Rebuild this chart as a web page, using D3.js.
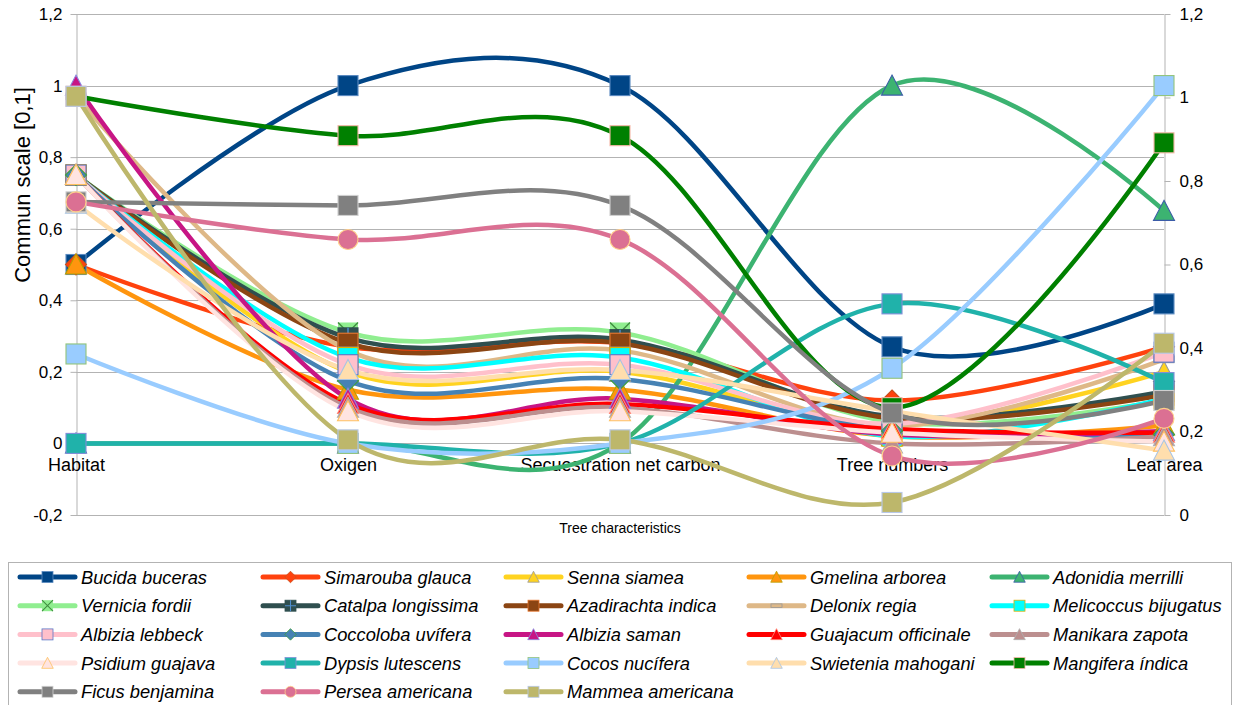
<!DOCTYPE html>
<html>
<head>
<meta charset="utf-8">
<script src="https://cdn.jsdelivr.net/npm/d3@7"></script>
<style>
  body { margin: 0; background: #ffffff; }
  svg { display: block; font-family: "Liberation Sans", Arial, sans-serif; }
</style>
</head>
<body>
<svg id="chart" width="1237" height="705"></svg>
<script>
// ---- data ----
const categories = ["Habitat", "Oxigen", "Secuestration net carbon", "Tree numbers", "Leaf area"];
const leftTicks = [-0.2, 0, 0.2, 0.4, 0.6, 0.8, 1, 1.2];
const rightTicks = [0, 0.2, 0.4, 0.6, 0.8, 1, 1.2];

const seriesNames = [
  "Bucida buceras", "Simarouba glauca", "Senna siamea", "Gmelina arborea", "Adonidia merrilli",
  "Vernicia fordii", "Catalpa longissima", "Azadirachta indica", "Delonix regia", "Melicoccus bijugatus",
  "Albizia lebbeck", "Coccoloba uvífera", "Albizia saman", "Guajacum officinale", "Manikara zapota",
  "Psidium guajava", "Dypsis lutescens", "Cocos nucífera", "Swietenia mahogani", "Mangifera índica",
  "Ficus benjamina", "Persea americana", "Mammea americana"
];

const bucidaBuceras       = [0.50, 1.00, 1.00, 0.27, 0.39];
const simaroubaGlauca     = [0.50, 0.27, 0.28, 0.12, 0.27];
const sennaSiamea         = [0.75, 0.20, 0.20, 0.05, 0.20];
const gmelinaArborea      = [0.50, 0.15, 0.15, 0.02, 0.05];
const adonidiaMerrilli    = [0.00, 0.00, 0.00, 1.00, 0.65];
const verniciaFordii      = [0.75, 0.31, 0.31, 0.06, 0.12];
const catalpaLongissima   = [0.75, 0.295, 0.29, 0.075, 0.145];
const azadirachtaIndica   = [0.75, 0.28, 0.28, 0.07, 0.135];
const delonixRegia        = [0.97, 0.26, 0.26, 0.05, 0.235];
const melicoccusBijugatus = [0.75, 0.24, 0.24, 0.02, 0.125];
const albiziaLebbeck      = [0.75, 0.22, 0.22, 0.055, 0.255];
const coccolobaUvifera    = [0.75, 0.175, 0.18, 0.035, 0.025];
const albiziaSaman        = [1.00, 0.125, 0.125, 0.025, 0.035];
const guajacumOfficinale  = [0.75, 0.11, 0.11, 0.04, 0.03];
const manikaraZapota      = [0.75, 0.10, 0.10, 0.00, 0.02];
const psidiumGuajava      = [0.75, 0.09, 0.09, 0.03, 0.005];
const dypsisLutescens     = [0.00, 0.00, 0.00, 0.39, 0.17];
const cocosNucifera       = [0.25, 0.00, 0.00, 0.21, 1.00];
const swieteniaMahogani   = [0.67, 0.205, 0.205, 0.09, -0.02];
const mangiferaIndica     = [0.97, 0.86, 0.86, 0.10, 0.84];
const ficusBenjamina      = [0.675, 0.665, 0.665, 0.085, 0.12];
const perseaAmericana     = [0.675, 0.57, 0.57, -0.035, 0.07];
const mammeaAmericana     = [0.97, 0.01, 0.01, -0.165, 0.28];

const seriesValues = [
  bucidaBuceras, simaroubaGlauca, sennaSiamea, gmelinaArborea, adonidiaMerrilli,
  verniciaFordii, catalpaLongissima, azadirachtaIndica, delonixRegia, melicoccusBijugatus,
  albiziaLebbeck, coccolobaUvifera, albiziaSaman, guajacumOfficinale, manikaraZapota,
  psidiumGuajava, dypsisLutescens, cocosNucifera, swieteniaMahogani, mangiferaIndica,
  ficusBenjamina, perseaAmericana, mammeaAmericana
];

// ---- styles: line colour, symbol shape, symbol fill and outline ----
const seriesStyles = [
  { color: "#004586", shape: "square",   fill: "#004586", stroke: "#5b8ac0" },
  { color: "#ff420e", shape: "diamond",  fill: "#ff420e", stroke: "#c8501e" },
  { color: "#ffd320", shape: "triangle", fill: "#ffd320", stroke: "#999999" },
  { color: "#ff950e", shape: "triangle", fill: "#ff950e", stroke: "#b8a000" },
  { color: "#3cb371", shape: "triangle", fill: "#3cb371", stroke: "#3b5ca8" },
  { color: "#90ee90", shape: "x",        fill: "#90ee90", stroke: "#3f8f3f" },
  { color: "#2f4f4f", shape: "plus",     fill: "#2f4f4f", stroke: "#4f8fd0" },
  { color: "#8b4513", shape: "square",   fill: "#8b4513", stroke: "#e8772e" },
  { color: "#deb887", shape: "bar",      fill: "#deb887", stroke: "#999999" },
  { color: "#00ffff", shape: "square",   fill: "#00ffff", stroke: "#e0b000" },
  { color: "#ffc0cb", shape: "square",   fill: "#ffc0cb", stroke: "#5a78c8" },
  { color: "#4682b4", shape: "diamond",  fill: "#4682b4", stroke: "#3f9f3f" },
  { color: "#c71585", shape: "triangle", fill: "#c71585", stroke: "#8a8ae0" },
  { color: "#ff0000", shape: "triangle", fill: "#ff0000", stroke: "#ff8a7a" },
  { color: "#bc8f8f", shape: "triangle", fill: "#bc8f8f", stroke: "#b0b0b0" },
  { color: "#ffe4e1", shape: "triangle", fill: "#ffe4e1", stroke: "#ffc060" },
  { color: "#20b2aa", shape: "square",   fill: "#20b2aa", stroke: "#7f8fd8" },
  { color: "#99ccff", shape: "square",   fill: "#99ccff", stroke: "#93c47d" },
  { color: "#ffdead", shape: "triangle", fill: "#ffdead", stroke: "#a8c4e4" },
  { color: "#008000", shape: "square",   fill: "#008000", stroke: "#f4b8a8" },
  { color: "#808080", shape: "square",   fill: "#808080", stroke: "#cfcfcf" },
  { color: "#db7093", shape: "circle",   fill: "#db7093", stroke: "#ffd08a" },
  { color: "#bdb76b", shape: "square",   fill: "#bdb76b", stroke: "#b8c8e8" }
];

const series = seriesNames.map((name, i) => ({
  name,
  values: seriesValues[i],
  style: seriesStyles[i]
}));

// ---- layout ----
const svg = d3.select("#chart");
const plot = { left: 76, right: 1164, top: 14, bottom: 515 };
const gridColor = "#b3b3b3";

const x = d3.scalePoint().domain(categories).range([plot.left, plot.right]).padding(0);
const y = d3.scaleLinear().domain([-0.2, 1.2]).range([plot.bottom, plot.top]);
const yRight = d3.scaleLinear().domain([0, 1.2]).range([plot.bottom, plot.top]);

const fmt = d => String(+d.toFixed(1)).replace(".", ",");

// gridlines
svg.append("g")
  .selectAll("line")
  .data(leftTicks)
  .join("line")
  .attr("x1", plot.left).attr("x2", plot.right)
  .attr("y1", d => Math.round(y(d)) + 0.5).attr("y2", d => Math.round(y(d)) + 0.5)
  .attr("stroke", gridColor).attr("stroke-width", 1);

// left value axis
const leftAxis = svg.append("g")
  .attr("transform", `translate(${plot.left + 0.5},0)`)
  .call(d3.axisLeft(y).tickValues(leftTicks).tickFormat(fmt).tickSize(6).tickSizeOuter(0).tickPadding(8));
leftAxis.selectAll("path.domain").attr("stroke", gridColor);
leftAxis.selectAll(".tick line").attr("stroke", gridColor);
leftAxis.selectAll("text").attr("font-size", 17).attr("fill", "#000")
  .style("font-family", "'Liberation Sans', Arial, sans-serif");

// right value axis
const rightAxis = svg.append("g")
  .attr("transform", `translate(${plot.right + 0.5},0)`)
  .call(d3.axisRight(yRight).tickValues(rightTicks).tickFormat(fmt).tickSize(6).tickSizeOuter(0).tickPadding(9));
rightAxis.selectAll("path.domain").attr("stroke", gridColor);
rightAxis.selectAll(".tick line").attr("stroke", gridColor);
rightAxis.selectAll("text").attr("font-size", 17).attr("fill", "#000")
  .style("font-family", "'Liberation Sans', Arial, sans-serif");

// category axis crossing at zero
const catAxis = svg.append("g")
  .attr("transform", `translate(0,${y(0)})`)
  .call(d3.axisBottom(x).tickSize(0).tickPadding(15));
catAxis.select("path.domain").remove();
catAxis.selectAll("text").attr("font-size", 18).attr("fill", "#000")
  .style("font-family", "'Liberation Sans', Arial, sans-serif");

// axis titles
svg.append("text")
  .attr("x", (plot.left + plot.right) / 2).attr("y", 533)
  .attr("text-anchor", "middle").attr("font-size", 14).attr("fill", "#000")
  .text("Tree characteristics");

svg.append("text")
  .attr("transform", "translate(30,185) rotate(-90)")
  .attr("text-anchor", "middle").attr("font-size", 22).attr("fill", "#000")
  .text("Commun scale [0,1]");

// ---- symbols ----
function drawSymbol(g, style, cx, cy, s) {
  const sw = Math.max(0.8, s / 9);
  const node = g.append("g").attr("transform", `translate(${cx},${cy})`);
  const base = { fill: style.fill, stroke: style.stroke, "stroke-width": sw };
  const apply = (sel, attrs) => { Object.entries(attrs).forEach(([k, v]) => sel.attr(k, v)); return sel; };
  switch (style.shape) {
    case "square":
      apply(node.append("rect"), base).attr("x", -s).attr("y", -s).attr("width", 2 * s).attr("height", 2 * s);
      break;
    case "diamond":
      apply(node.append("path"), base).attr("d", `M0,${-s * 1.05}L${s * 1.05},0L0,${s * 1.05}L${-s * 1.05},0Z`);
      break;
    case "triangle":
      apply(node.append("path"), base).attr("d", `M0,${-s * 1.05}L${s * 1.05},${s * 0.95}L${-s * 1.05},${s * 0.95}Z`);
      break;
    case "circle":
      apply(node.append("circle"), base).attr("r", s);
      break;
    case "bar":
      apply(node.append("rect"), base).attr("x", -s).attr("y", -s * 0.33).attr("width", 2 * s).attr("height", s * 0.66);
      break;
    case "x":
      apply(node.append("rect"), { fill: style.fill, stroke: "none" }).attr("x", -s).attr("y", -s).attr("width", 2 * s).attr("height", 2 * s);
      node.append("path").attr("d", `M${-s},${-s}L${s},${s}M${s},${-s}L${-s},${s}`)
        .attr("stroke", style.stroke).attr("stroke-width", sw * 1.3).attr("fill", "none");
      break;
    case "plus":
      apply(node.append("rect"), { fill: style.fill, stroke: style.fill, "stroke-width": sw }).attr("x", -s).attr("y", -s).attr("width", 2 * s).attr("height", 2 * s);
      node.append("path").attr("d", `M0,${-s}V${s}M${-s},0H${s}`)
        .attr("stroke", style.stroke).attr("stroke-width", sw * 1.3).attr("fill", "none");
      break;
  }
}

// ---- series lines (smoothed through every point) ----
const line = d3.line()
  .x((d, i) => x(categories[i]))
  .y(d => y(d))
  .curve(d3.curveCardinal.tension(0));

const linesG = svg.append("g");
series.forEach(s => {
  linesG.append("path")
    .datum(s.values)
    .attr("d", line)
    .attr("fill", "none")
    .attr("stroke", s.style.color)
    .attr("stroke-width", 4.5)
    .attr("stroke-linejoin", "round")
    .attr("stroke-linecap", "round");
});

// ---- series symbols ----
const markersG = svg.append("g");
series.forEach(s => {
  s.values.forEach((v, i) => drawSymbol(markersG, s.style, x(categories[i]), y(v), 10));
});

// ---- legend ----
const legend = svg.append("g");
legend.append("rect")
  .attr("x", 8.5).attr("y", 562.5).attr("width", 1223).attr("height", 160)
  .attr("fill", "#fff").attr("stroke", gridColor);

const legendCols = 5, colStep = 243, rowStep = 28.7;
series.forEach((s, i) => {
  const col = i % legendCols, row = Math.floor(i / legendCols);
  const x0 = 20 + col * colStep, yc = 577 + row * rowStep;
  legend.append("line")
    .attr("x1", x0).attr("x2", x0 + 55).attr("y1", yc).attr("y2", yc)
    .attr("stroke", s.style.color).attr("stroke-width", 5).attr("stroke-linecap", "round");
  drawSymbol(legend, s.style, x0 + 27.5, yc, 5.5);
  legend.append("text")
    .attr("x", x0 + 61).attr("y", yc + 6.5)
    .attr("font-size", 18.3).attr("font-style", "italic").attr("fill", "#000")
    .text(s.name);
});
</script>
</body>
</html>
